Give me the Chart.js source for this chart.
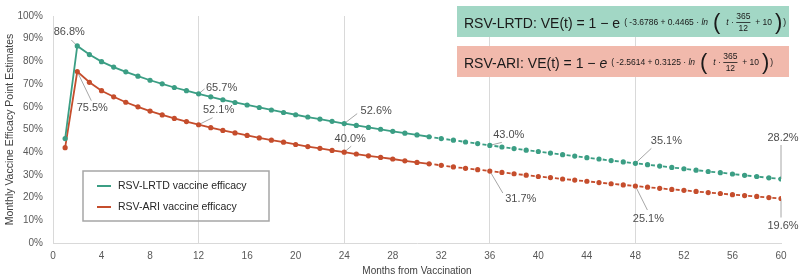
<!DOCTYPE html>
<html>
<head>
<meta charset="utf-8">
<script src="https://cdn.jsdelivr.net/npm/chart.js@4"></script>
<style>
  html, body { margin: 0; padding: 0; background: #fff; }
  #wrap { position: relative; width: 800px; height: 277px; }
</style>
</head>
<body>
<div id="wrap"><canvas id="chart" width="800" height="277"></canvas></div>
<script>
  'use strict';

  // months since vaccination
  const months = [
    1, 2, 3, 4, 5, 6, 7, 8, 9, 10, 11, 12,
    13, 14, 15, 16, 17, 18, 19, 20, 21, 22, 23, 24,
    25, 26, 27, 28, 29, 30, 31, 32, 33, 34, 35, 36,
    37, 38, 39, 40, 41, 42, 43, 44, 45, 46, 47, 48,
    49, 50, 51, 52, 53, 54, 55, 56, 57, 58, 59, 60
  ];

  // monthly point estimates (%)
  const lrtdValues = [
    46.0, 86.8, 83.0, 79.9, 77.5, 75.4, 73.5, 71.7, 70.1, 68.5, 67.1, 65.7,
    64.4, 63.1, 61.9, 60.8, 59.7, 58.6, 57.5, 56.5, 55.5, 54.6, 53.6, 52.6,
    51.8, 50.9, 50.1, 49.2, 48.4, 47.6, 46.8, 46.0, 45.3, 44.5, 43.8, 43.0,
    42.3, 41.6, 40.9, 40.3, 39.6, 38.9, 38.3, 37.6, 37.0, 36.3, 35.7, 35.1,
    34.5, 33.9, 33.3, 32.7, 32.1, 31.5, 31.0, 30.4, 29.8, 29.3, 28.7, 28.2
  ];
  const ariValues = [
    42.0, 75.5, 70.8, 67.1, 64.4, 62.0, 60.0, 58.1, 56.4, 54.9, 53.5, 52.1,
    50.8, 49.6, 48.5, 47.4, 46.3, 45.3, 44.4, 43.4, 42.5, 41.7, 40.8, 40.0,
    39.2, 38.4, 37.7, 37.0, 36.2, 35.5, 34.9, 34.2, 33.5, 32.9, 32.3, 31.7,
    31.1, 30.5, 29.9, 29.3, 28.8, 28.2, 27.7, 27.2, 26.6, 26.1, 25.6, 25.1,
    24.6, 24.1, 23.6, 23.2, 22.7, 22.2, 21.8, 21.3, 20.9, 20.5, 20.0, 19.6
  ];

  const labelledMonths = [2, 12, 24, 36, 48, 60];
  const projectedFrom = 31; // dotted line after this month

  const xTicks = [0, 4, 8, 12, 16, 20, 24, 28, 32, 36, 40, 44, 48, 52, 56, 60];
  const yTicks = [0, 10, 20, 30, 40, 50, 60, 70, 80, 90, 100];

  const seriesNames = ['RSV-LRTD vaccine efficacy', 'RSV-ARI vaccine efficacy'];
  const formulaNames = ['RSV-LRTD', 'RSV-ARI'];
  const formulaIntercepts = ['-3.6786', '-2.5614'];
  const formulaSlopes = ['0.4465', '0.3125'];

  const FONT = '"Liberation Sans", Arial, sans-serif';
  const TEAL = '#3b9e84';
  const RED = '#c54d2c';

  // callout placement: [text dx, text dy, leader end dx, leader end dy]
  const calloutOffsets = [
    [[-8, -14, -6, -6], [23, -6, 6, -5], [32, -13, 13, -10], [19, -10, 12, -3], [31, -22, 16, -15], [2, -41, 0, -34]],
    [[15, 36, 14, 29], [20, -15, 14, -7], [6, -13, 7, -6], [31, 28, 13, 22], [13, 33, 12, 24], [2, 27, 0, 19]]
  ];

  function toPoints(values) {
    return months.map(function (m, i) {
      return { x: m, y: values[i] };
    });
  }

  function dashAfter(ctx) {
    return ctx.p0.parsed.x >= projectedFrom ? [2.5, 2.8, 4, 2.83] : undefined;
  }

  const calloutPlugin = {
    id: 'callouts',
    beforeDatasetsDraw: function (chart) {
      const ctx = chart.ctx;
      ctx.save();
      ctx.strokeStyle = '#a6a6a6';
      ctx.lineWidth = 1;
      chart.data.datasets.forEach(function (ds, di) {
        const meta = chart.getDatasetMeta(di);
        labelledMonths.forEach(function (m, li) {
          const pt = meta.data[months.indexOf(m)];
          const off = calloutOffsets[di][li];
          ctx.beginPath();
          ctx.moveTo(pt.x, pt.y);
          ctx.lineTo(pt.x + off[2], pt.y + off[3]);
          ctx.stroke();
        });
      });
      ctx.restore();
    },
    afterDatasetsDraw: function (chart) {
      const ctx = chart.ctx;
      ctx.save();
      ctx.font = '11px ' + FONT;
      ctx.fillStyle = '#4d4d4d';
      ctx.textAlign = 'center';
      ctx.textBaseline = 'middle';
      chart.data.datasets.forEach(function (ds, di) {
        const meta = chart.getDatasetMeta(di);
        labelledMonths.forEach(function (m, li) {
          const idx = months.indexOf(m);
          const pt = meta.data[idx];
          const off = calloutOffsets[di][li];
          ctx.fillText(ds.data[idx].y.toFixed(1) + '%', pt.x + off[0], pt.y + off[1]);
        });
      });
      ctx.restore();
    },
    afterDraw: function (chart) {
      const ctx = chart.ctx;
      ctx.save();
      // legend box
      ctx.strokeStyle = '#a6a6a6';
      ctx.lineWidth = 1.5;
      ctx.strokeRect(83, 171, 186, 50);
      ctx.font = '10.5px ' + FONT;
      ctx.textBaseline = 'middle';
      ctx.textAlign = 'left';
      chart.data.datasets.forEach(function (ds, di) {
        const y = 186 + di * 21;
        ctx.strokeStyle = ds.borderColor;
        ctx.lineWidth = 2;
        ctx.beginPath();
        ctx.moveTo(97, y);
        ctx.lineTo(111, y);
        ctx.stroke();
        ctx.fillStyle = '#262626';
        ctx.fillText(ds.label, 118, y);
      });
      // formula boxes
      drawFormula(ctx, 6, '#a2d7c5', 0, false);
      drawFormula(ctx, 46, '#f1b9ac', 1, true);
      ctx.restore();
    }
  };

  function drawFormula(ctx, top, fill, i, italicE) {
    const left = 457, w = 332, h = 31;
    ctx.fillStyle = fill;
    ctx.fillRect(left, top, w, h);
    ctx.fillStyle = '#1a1a1a';
    ctx.textAlign = 'left';
    ctx.textBaseline = 'middle';
    const y = top + h / 2 + 3;
    let x = left + 7;
    ctx.font = '14px ' + FONT;
    const main = formulaNames[i] + ': VE(t) = 1 \u2212 ';
    ctx.fillText(main, x, y);
    x += ctx.measureText(main).width;
    ctx.font = (italicE ? 'italic ' : '') + '14px ' + FONT;
    ctx.fillText('e', x, y);
    x += ctx.measureText('e').width + 4;

    const ey = y - 2;
    const small = '8.5px ' + FONT;
    const smallIt = 'italic 8.5px ' + FONT;
    const big = '22px ' + FONT;
    function put(text, font, gap) {
      ctx.font = font;
      ctx.fillText(text, x, ey);
      x += ctx.measureText(text).width + (gap || 0);
    }
    put('( ' + formulaIntercepts[i] + ' + ' + formulaSlopes[i] + ' \u00b7 ', small);
    put('ln', smallIt, 5);
    put('(', big, 6);
    put('t', smallIt);
    put(' \u00b7 ', small);
    // fraction 365 / 12
    ctx.font = small;
    const fw = ctx.measureText('365').width;
    ctx.textAlign = 'center';
    ctx.fillText('365', x + fw / 2, ey - 6);
    ctx.fillText('12', x + fw / 2, ey + 6);
    ctx.textAlign = 'left';
    ctx.fillRect(x, ey - 0.5, fw, 0.8);
    x += fw;
    put('  + 10', small, 3);
    put(')', big, 1);
    put(')', small);
  }

  function init() {
    const canvas = document.getElementById('chart');
    new Chart(canvas, {
      type: 'line',
      data: {
        datasets: [
          {
            label: seriesNames[0],
            data: toPoints(lrtdValues),
            borderColor: TEAL,
            backgroundColor: TEAL,
            borderWidth: 1.8,
            pointRadius: 2.6,
            pointBorderWidth: 0,
            tension: 0,
            segment: { borderDash: dashAfter }
          },
          {
            label: seriesNames[1],
            data: toPoints(ariValues),
            borderColor: RED,
            backgroundColor: RED,
            borderWidth: 1.8,
            pointRadius: 2.6,
            pointBorderWidth: 0,
            tension: 0,
            segment: { borderDash: dashAfter }
          }
        ]
      },
      options: {
        responsive: false,
        animation: false,
        devicePixelRatio: 1,
        layout: { padding: { top: 6, right: 19, bottom: 0, left: 0 } },
        plugins: {
          legend: { display: false },
          tooltip: { enabled: false }
        },
        scales: {
          x: {
            type: 'linear',
            min: 0,
            max: 60,
            afterBuildTicks: function (scale) {
              scale.ticks = xTicks.map(function (v) { return { value: v }; });
            },
            afterFit: function (scale) { scale.height = 34; },
            grid: {
              drawTicks: false,
              color: function (c) {
                const v = c.tick && c.tick.value;
                return v && v % 12 === 0 && v !== 60 ? '#d9d9d9' : 'rgba(0,0,0,0)';
              },
              lineWidth: 1
            },
            border: { color: '#d9d9d9', width: 1 },
            ticks: { padding: 7, color: '#595959', font: { family: FONT, size: 10 }, maxRotation: 0 },
            title: {
              display: true,
              text: 'Months from Vaccination',
              color: '#404040',
              font: { family: FONT, size: 10 },
              padding: { top: 0, bottom: 0 }
            }
          },
          y: {
            min: 0,
            max: 100,
            afterBuildTicks: function (scale) {
              scale.ticks = yTicks.map(function (v) { return { value: v }; });
            },
            afterFit: function (scale) { scale.width = 53; },
            grid: { display: false, drawTicks: false },
            border: { color: '#d9d9d9', width: 1 },
            ticks: {
              padding: 10,
              color: '#595959',
              font: { family: FONT, size: 10 },
              callback: function (v) { return v + '%'; }
            },
            title: {
              display: true,
              text: 'Monthly Vaccine Efficacy Point Estimates',
              color: '#404040',
              font: { family: FONT, size: 10.5 },
              padding: { top: 4, bottom: 0 }
            }
          }
        }
      },
      plugins: [calloutPlugin]
    });
  }

  document.addEventListener('DOMContentLoaded', init);
</script>
</body>
</html>
